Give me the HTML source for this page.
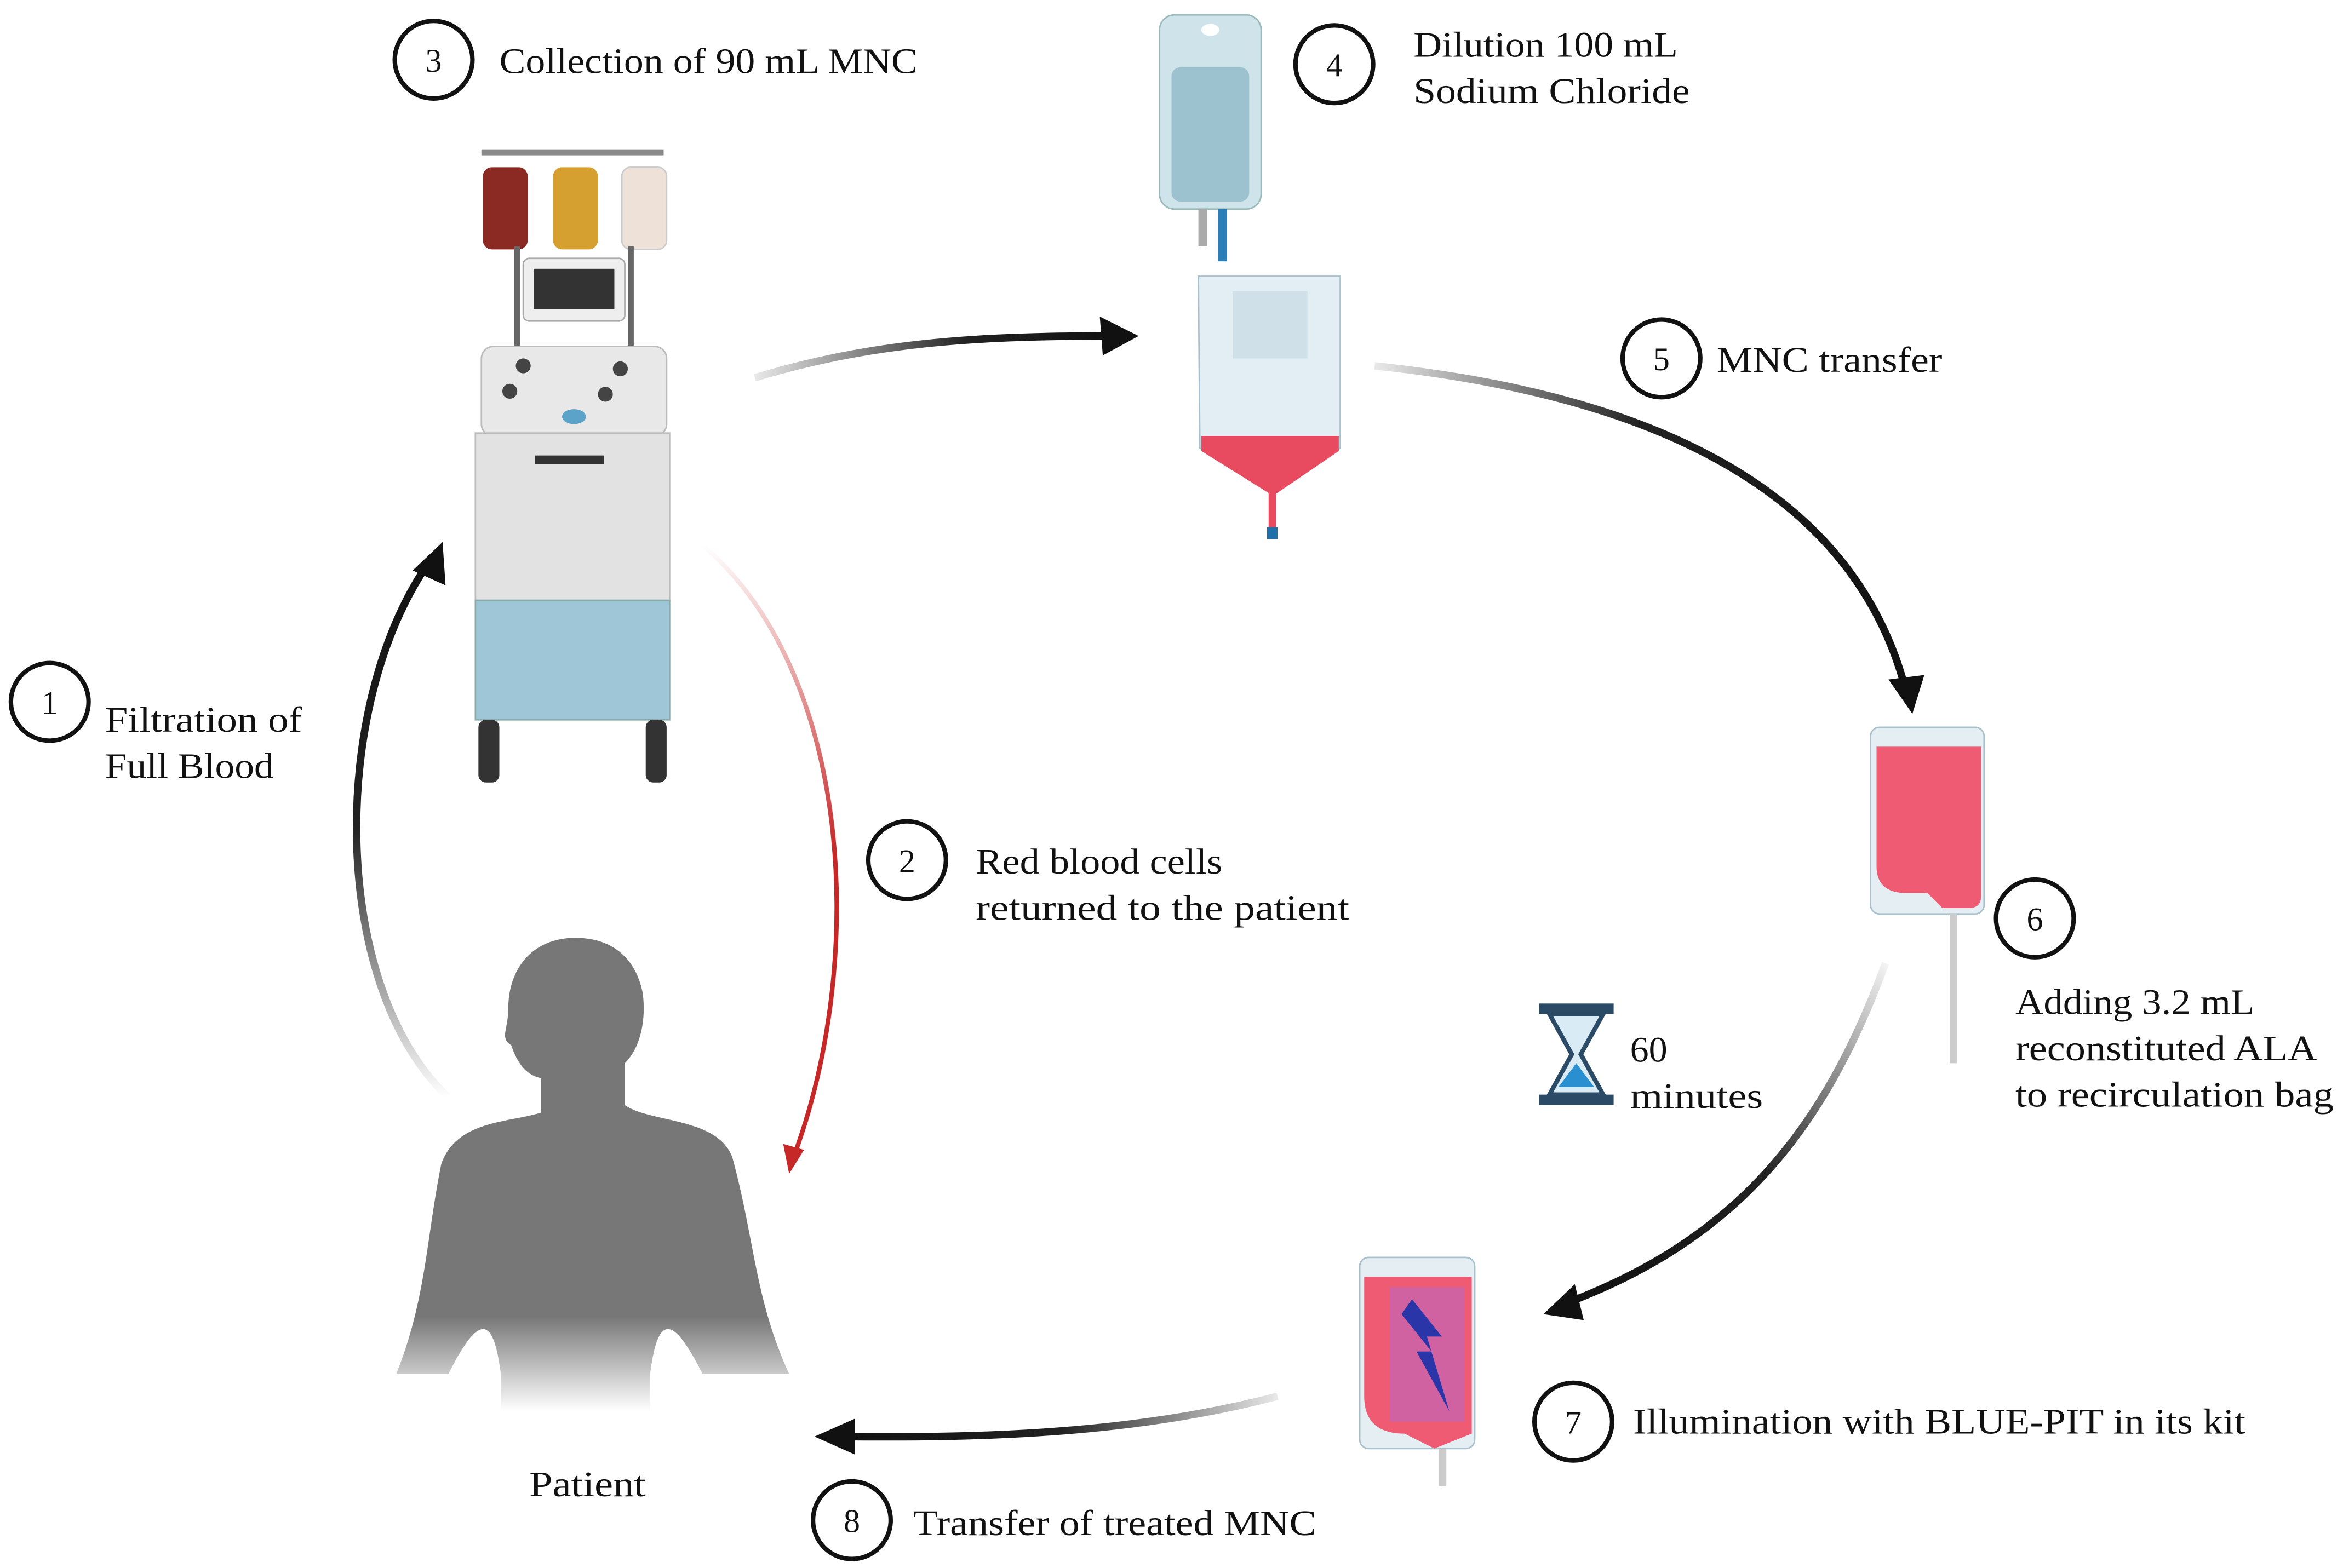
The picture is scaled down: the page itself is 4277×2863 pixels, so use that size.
<!DOCTYPE html>
<html><head><meta charset="utf-8"><style>
html,body{margin:0;padding:0;background:#fff}
svg{display:block}
text{font-family:"Liberation Serif",serif;fill:#111}
</style></head><body>
<svg width="4277" height="2863" viewBox="0 0 1568 1050" xmlns="http://www.w3.org/2000/svg">
<defs>
<linearGradient id="g1" x1="0" y1="1" x2="0" y2="0"><stop offset="0" stop-color="#222" stop-opacity="0"/><stop offset="0.5" stop-color="#222"/><stop offset="1" stop-color="#111"/></linearGradient>
<linearGradient id="g2" x1="0" y1="0" x2="0" y2="1"><stop offset="0" stop-color="#c62828" stop-opacity="0"/><stop offset="0.5" stop-color="#c62828"/><stop offset="1" stop-color="#c62828"/></linearGradient>
<linearGradient id="g3" x1="0" y1="0" x2="1" y2="0"><stop offset="0" stop-color="#222" stop-opacity="0.1"/><stop offset="0.6" stop-color="#222"/><stop offset="1" stop-color="#111"/></linearGradient>
<linearGradient id="g4" x1="0" y1="0" x2="1" y2="0"><stop offset="0" stop-color="#222" stop-opacity="0.1"/><stop offset="0.5" stop-color="#222"/><stop offset="1" stop-color="#111"/></linearGradient>
<linearGradient id="g5" x1="1" y1="0" x2="0" y2="1"><stop offset="0" stop-color="#222" stop-opacity="0.05"/><stop offset="0.5" stop-color="#222"/><stop offset="1" stop-color="#111"/></linearGradient>
<linearGradient id="g6" x1="1" y1="0" x2="0" y2="0"><stop offset="0" stop-color="#222" stop-opacity="0.1"/><stop offset="0.5" stop-color="#222"/><stop offset="1" stop-color="#111"/></linearGradient>
<linearGradient id="gp" x1="0" y1="0" x2="0" y2="1"><stop offset="0.8" stop-color="#777"/><stop offset="1" stop-color="#777" stop-opacity="0"/></linearGradient>
</defs>

<path d="M300,735 C220,660 220,470 288,375" fill="none" stroke="url(#g1)" stroke-width="5"/>
<polygon points="296,363 298,392 276,382" fill="#111"/>
<path d="M470,365 C570,450 580,640 532,772" fill="none" stroke="url(#g2)" stroke-width="3"/>
<polygon points="528,786 524,766 538,770" fill="#c62828"/>
<path d="M505,253 C580,230 650,225 740,225" fill="none" stroke="url(#g3)" stroke-width="5"/>
<polygon points="762,225 736,212 738,238" fill="#111"/>
<path d="M920,245 C1110,265 1240,330 1275,460" fill="none" stroke="url(#g4)" stroke-width="5"/>
<polygon points="1280,478 1264,455 1288,452" fill="#111"/>
<path d="M1262,645 C1220,760 1160,830 1050,872" fill="none" stroke="url(#g5)" stroke-width="5"/>
<polygon points="1033,880 1054,860 1060,884" fill="#111"/>
<path d="M855,935 C760,960 660,963 565,962" fill="none" stroke="url(#g6)" stroke-width="5"/>
<polygon points="545,962 572,950 572,974" fill="#111"/>

<rect x="322" y="100" width="122" height="4" fill="#888"/>
<rect x="323" y="112" width="30" height="55" rx="6" fill="#8b2a22"/>
<rect x="370" y="112" width="30" height="55" rx="6" fill="#d6a030"/>
<rect x="416" y="112" width="30" height="55" rx="6" fill="#eee2d8" stroke="#ccc"/>
<rect x="344" y="165" width="4" height="85" fill="#666"/><rect x="420" y="165" width="4" height="85" fill="#666"/>
<rect x="350" y="173" width="68" height="42" rx="4" fill="#eee" stroke="#aaa"/>
<rect x="357" y="180" width="54" height="27" fill="#333"/>
<rect x="322" y="232" width="124" height="60" rx="8" fill="#e8e8e8" stroke="#bbb"/>
<circle cx="341" cy="262" r="5" fill="#444"/><circle cx="415" cy="247" r="5" fill="#444"/><circle cx="405" cy="264" r="5" fill="#444"/><circle cx="350" cy="245" r="5" fill="#444"/>
<ellipse cx="384" cy="279" rx="8" ry="5" fill="#5ba3c9"/>
<rect x="318" y="290" width="130" height="112" fill="#e2e2e2" stroke="#bbb"/>
<rect x="358" y="305" width="46" height="6" fill="#333"/>
<rect x="318" y="402" width="130" height="80" fill="#9fc6d6" stroke="#8aa"/>
<rect x="320" y="482" width="14" height="42" rx="5" fill="#333"/><rect x="432" y="482" width="14" height="42" rx="5" fill="#333"/>

<rect x="776" y="10" width="68" height="130" rx="10" fill="#cfe3ea" stroke="#9bb"/>
<rect x="784" y="45" width="52" height="90" rx="6" fill="#9cc2cf"/>
<ellipse cx="810" cy="20" rx="6" ry="4" fill="#fff"/>
<rect x="802" y="140" width="6" height="25" fill="#aaa"/><rect x="815" y="140" width="6" height="35" fill="#2a7fb8"/>
<path d="M802,185 L897,185 L897,300 L852,330 L803,300 Z" fill="#e3eef4" stroke="#a8c0cc"/>
<path d="M804,292 L896,292 L896,302 L852,332 L804,302 Z" fill="#e84a5f"/>
<rect x="849" y="325" width="5" height="35" fill="#e84a5f"/><rect x="848" y="353" width="7" height="8" fill="#1f6fa8"/>
<rect x="825" y="195" width="50" height="45" fill="#cfe0e8"/>

<rect x="1252" y="487" width="76" height="125" rx="6" fill="#e4eef3" stroke="#a9c1cc"/>
<path d="M1256,500 L1326,500 L1326,600 Q1326,608 1318,608 L1300,608 L1290,598 L1276,598 Q1256,598 1256,580 Z" fill="#ee5b72"/>
<rect x="1305" y="612" width="5" height="100" fill="#ccc"/>

<rect x="910" y="842" width="77" height="128" rx="6" fill="#e4eef3" stroke="#a9c1cc"/>
<path d="M913,855 L985,855 L985,960 L960,970 L940,960 Q913,960 913,935 Z" fill="#ee5b72"/>
<rect x="930" y="862" width="50" height="90" fill="#b46ad0" opacity="0.5"/>
<path d="M945,870 L965,895 L955,895 L970,945 L948,905 L958,905 L938,880 Z" fill="#2a35a8"/>
<rect x="963" y="970" width="5" height="25" fill="#ccc"/>

<rect x="1030" y="672" width="50" height="7" fill="#2b4a66"/><rect x="1030" y="733" width="50" height="7" fill="#2b4a66"/>
<path d="M1037,679 L1073,679 L1058,706 L1073,733 L1037,733 L1052,706 Z" fill="#d9ecf5" stroke="#2b4a66" stroke-width="3"/>
<path d="M1043,728 L1055,712 L1067,728 Z" fill="#2a8fd0"/>

<path d="M385,628 C355,628 340,650 340,675 C340,690 334,695 342,700 C346,712 352,720 362,722 L362,745 C340,752 305,750 295,780 C285,830 285,870 265,920 L300,920 C320,880 330,880 335,920 L335,945 L435,945 L435,920 C440,880 450,880 470,920 L528,920 C505,870 505,830 490,775 C480,748 435,752 418,740 L418,712 C430,700 432,680 430,665 C425,640 408,628 385,628 Z" fill="url(#gp)"/>

<g fill="#fff" stroke="#111" stroke-width="3">
<circle cx="290" cy="40" r="26"/><circle cx="893" cy="43" r="26"/><circle cx="1112" cy="240" r="26"/><circle cx="1362" cy="615" r="26"/>
<circle cx="1053" cy="952" r="26"/><circle cx="570" cy="1018" r="26"/><circle cx="33" cy="470" r="26"/><circle cx="607" cy="576" r="26"/>
</g>
<g font-size="22" text-anchor="middle">
<text x="290" y="48">3</text><text x="893" y="51">4</text><text x="1112" y="248">5</text><text x="1362" y="623">6</text>
<text x="1053" y="960">7</text><text x="570" y="1026">8</text><text x="33" y="478">1</text><text x="607" y="584">2</text>
</g>
<g font-size="24" lengthAdjust="spacingAndGlyphs">
<text x="334" y="49" textLength="280" lengthAdjust="spacingAndGlyphs">Collection of 90 mL MNC</text>
<text x="946" y="38" textLength="177" lengthAdjust="spacingAndGlyphs">Dilution 100 mL</text><text x="946" y="69" textLength="185" lengthAdjust="spacingAndGlyphs">Sodium Chloride</text>
<text x="1149" y="249" textLength="151" lengthAdjust="spacingAndGlyphs">MNC transfer</text>
<text x="1349" y="679" textLength="160" lengthAdjust="spacingAndGlyphs">Adding 3.2 mL</text><text x="1349" y="710" textLength="202" lengthAdjust="spacingAndGlyphs">reconstituted ALA</text><text x="1349" y="741" textLength="213" lengthAdjust="spacingAndGlyphs">to recirculation bag</text>
<text x="1091" y="711" textLength="25" lengthAdjust="spacingAndGlyphs">60</text><text x="1091" y="742" textLength="89" lengthAdjust="spacingAndGlyphs">minutes</text>
<text x="1093" y="960" textLength="410" lengthAdjust="spacingAndGlyphs">Illumination with BLUE-PIT in its kit</text>
<text x="611" y="1028" textLength="270" lengthAdjust="spacingAndGlyphs">Transfer of treated MNC</text>
<text x="354" y="1002" textLength="78" lengthAdjust="spacingAndGlyphs">Patient</text>
<text x="70" y="490" textLength="132" lengthAdjust="spacingAndGlyphs">Filtration of</text><text x="70" y="521" textLength="113" lengthAdjust="spacingAndGlyphs">Full Blood</text>
<text x="653" y="585" textLength="165" lengthAdjust="spacingAndGlyphs">Red blood cells</text><text x="653" y="616" textLength="250" lengthAdjust="spacingAndGlyphs">returned to the patient</text>
</g>
</svg>
</body></html>
